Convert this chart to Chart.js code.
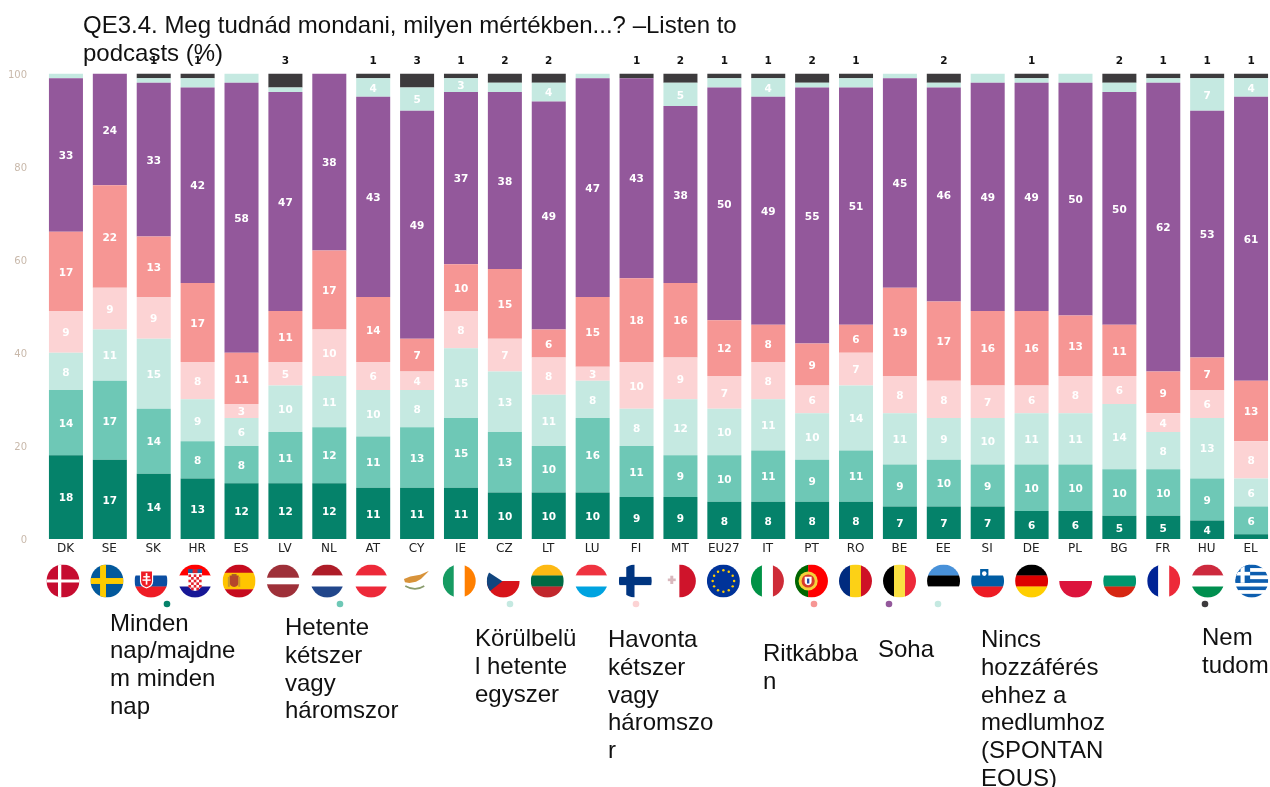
<!DOCTYPE html>
<html><head><meta charset="utf-8">
<script src="https://cdn.jsdelivr.net/npm/chart.js@4"></script>
<style>
html,body{margin:0;padding:0;background:#fff;overflow:hidden;width:1270px;height:787px}
#wrap{position:relative;width:1270px;height:787px;overflow:hidden}
canvas{position:absolute;left:0;top:0;filter:blur(.35px)}
.t{position:absolute;font-family:"Liberation Sans",Arial,sans-serif;font-size:24px;line-height:27.8px;color:#111;white-space:pre}
</style></head><body>
<div id="wrap"><canvas id="c" width="1290" height="787" style="width:1290px;height:787px"></canvas></div>
<script>
const titleLines = ["QE3.4. Meg tudnád mondani, milyen mértékben...? –Listen to","podcasts (%)"];
const categories = ["DK","SE","SK","HR","ES","LV","NL","AT","CY","IE","CZ","LT","LU","FI","MT","EU27","IT","PT","RO","BE","EE","SI","DE","PL","BG","FR","HU","EL"];
const daily    = [18,17,14,13,12,12,12,11,11,11,10,10,10,9,9,8,8,8,8,7,7,7,6,6,5,5,4,1];
const twoThreeWeek = [14,17,14,8,8,11,12,11,13,15,13,10,16,11,9,10,11,9,11,9,10,9,10,10,10,10,9,6];
const weekly   = [8,11,15,9,6,10,11,10,8,15,13,11,8,8,12,10,11,10,14,11,9,10,11,11,14,8,13,6];
const twoThreeMonth = [9,9,9,8,3,5,10,6,4,8,7,8,3,10,9,7,8,6,7,8,8,7,6,8,6,4,6,8];
const rarely   = [17,22,13,17,11,11,17,14,7,10,15,6,15,18,16,12,8,9,6,19,17,16,16,13,11,9,7,13];
const never    = [33,24,33,42,58,47,38,43,49,37,38,49,47,43,38,50,49,55,51,45,46,49,49,50,50,62,53,61];
const noAccess = [1,0,1,2,2,1,0,4,5,3,2,4,1,0,5,2,4,1,2,1,1,2,1,2,2,1,7,4];
const dontKnow = [0,0,1,1,0,3,0,1,3,1,2,2,0,1,2,1,1,2,1,0,2,0,1,0,2,1,1,1];
const seriesValues = [daily,twoThreeWeek,weekly,twoThreeMonth,rarely,never,noAccess,dontKnow];
const seriesNames = ["Minden nap/majdnem minden nap","Hetente kétszer vagy háromszor","Körülbelül hetente egyszer","Havonta kétszer vagy háromszor","Ritkábban","Soha","Nincs hozzáférés ehhez a medlumhoz (SPONTANEOUS)","Nem tudom"];
const seriesColors = ["#05826a","#6ec8b6","#c5e9e1","#fcd3d4","#f69694","#93589b","#c5e9e1","#3d3b3d"];
const legendLines = [
 ["Minden","nap/majdne","m minden","nap"],
 ["Hetente","kétszer","vagy","háromszor"],
 ["Körülbelü","l hetente","egyszer"],
 ["Havonta","kétszer","vagy","háromszo","r"],
 ["Ritkábba","n"],
 ["Soha"],
 ["Nincs","hozzáférés","ehhez a","medlumhoz","(SPONTAN","EOUS)"],
 ["Nem","tudom"]];
const legendTextX = [110,285,475,608,763,878,981,1202];
const legendTextY = [608.5,613,624,625,639,635,625,623];
const legendDotX = [167,340,510,636,814,889,938,1205];

const wrap = document.getElementById('wrap');
function addText(lines,x,y){const d=document.createElement('div');d.className='t';d.style.left=x+'px';d.style.top=y+'px';d.textContent=lines.join('\n');wrap.appendChild(d);}
addText(titleLines,83,11);
legendLines.forEach((l,i)=>addText(l,legendTextX[i],legendTextY[i]));

function H(c,cols,r,ws){let y=-r;const tot=ws?ws.reduce((a,b)=>a+b):cols.length;cols.forEach((k,i)=>{const h=2*r*(ws?ws[i]:1)/tot;c.fillStyle=k;c.fillRect(-r,y,2*r,h+.3);y+=h;});}
function V(c,cols,r,ws){let x=-r;const tot=ws?ws.reduce((a,b)=>a+b):cols.length;cols.forEach((k,i)=>{const w=2*r*(ws?ws[i]:1)/tot;c.fillStyle=k;c.fillRect(x,-r,w+.3,2*r);x+=w;});}
function rect(c,k,x,y,w,h){c.fillStyle=k;c.fillRect(x,y,w,h);}
function dot(c,k,x,y,r){c.fillStyle=k;c.beginPath();c.arc(x,y,r,0,7);c.fill();}
function shield(c,k,x,y,w,h){c.fillStyle=k;c.beginPath();c.moveTo(x-w/2,y-h/2);c.lineTo(x+w/2,y-h/2);c.lineTo(x+w/2,y+h*.1);c.quadraticCurveTo(x+w/2,y+h*.4,x,y+h/2);c.quadraticCurveTo(x-w/2,y+h*.4,x-w/2,y+h*.1);c.closePath();c.fill();}
const W='#ffffff';
const flags = {
 DK(c,r){rect(c,'#c60c30',-r,-r,2*r,2*r);rect(c,W,-r*.3,-r,r*.2,2*r);rect(c,W,-r*1,-r*.09,2*r,r*.18);},
 SE(c,r){rect(c,'#03599c',-r,-r,2*r,2*r);rect(c,'#fecb00',-r*.42,-r,r*.36,2*r);rect(c,'#fecb00',-r,-r*.18,2*r,r*.36);},
 SK(c,r){H(c,[W,'#0b4ea2','#ee1c25'],r);shield(c,W,-r*.27,-r*.1,r*.8,r*1.1);shield(c,'#ee1c25',-r*.27,-r*.1,r*.66,r*.95);rect(c,W,-r*.32,-r*.48,r*.1,r*.7);rect(c,W,-r*.47,-r*.3,r*.4,r*.09);rect(c,W,-r*.52,-r*.1,r*.5,r*.09);},
 HR(c,r){H(c,['#ff0000',W,'#171796'],r);shield(c,W,0,r*.05,r*.85,r*1.1);for(let i=0;i<5;i++)for(let j=0;j<6;j++)if((i+j)%2==0)rect(c,'#e5232e',-r*.4+i*r*.16,-r*.4+j*r*.16,r*.16,r*.16);rect(c,'#1a5fa8',-r*.42,-r*.72,r*.84,r*.24);rect(c,'#d8232a',-r*.15,-r*.72,r*.3,r*.24);},
 ES(c,r){H(c,['#c60b1e','#ffc400','#c60b1e'],r,[1,2,1]);shield(c,'#b5452c',-r*.3,r*.02,r*.55,r*.7);rect(c,'#c9982b',-r*.68,-r*.25,r*.12,r*.6);rect(c,'#c9982b',-r*.05,-r*.25,r*.12,r*.6);rect(c,'#a8572a',-r*.45,-r*.42,r*.3,r*.14);},
 LV(c,r){H(c,['#9e3039',W,'#9e3039'],r,[2,1,2]);},
 NL(c,r){H(c,['#ae1c28',W,'#21468b'],r);},
 AT(c,r){H(c,['#ed2939',W,'#ed2939'],r);},
 CY(c,r){rect(c,W,-r,-r,2*r,2*r);c.fillStyle='#d8933a';c.beginPath();c.moveTo(-r*.68,-r*.12);c.lineTo(-r*.3,-r*.28);c.lineTo(r*.3,-r*.38);c.lineTo(r*.85,-r*.62);c.lineTo(r*.35,-r*.12);c.lineTo(r*.05,r*.05);c.lineTo(-r*.35,r*.12);c.lineTo(-r*.62,r*.08);c.closePath();c.fill();c.strokeStyle='#8a9c6d';c.lineWidth=r*.1;c.beginPath();c.moveTo(-r*.6,r*.3);c.quadraticCurveTo(0,r*.65,r*.55,r*.3);c.stroke();},
 IE(c,r){V(c,['#169b62',W,'#ff7f00'],r);},
 CZ(c,r){H(c,[W,'#d7141a'],r);c.fillStyle='#11457e';c.beginPath();c.moveTo(-r,-r*.6);c.lineTo(-r*.05,r*.02);c.lineTo(-r,r*.75);c.closePath();c.fill();},
 LT(c,r){H(c,['#fdb913','#006a44','#c1272d'],r);},
 LU(c,r){H(c,['#ef3340',W,'#00a3e0'],r);},
 FI(c,r){rect(c,W,-r,-r,2*r,2*r);rect(c,'#003580',-r*.55,-r,r*.5,2*r);rect(c,'#003580',-r,-r*.25,2*r,r*.5);},
 MT(c,r){V(c,[W,'#cf142b'],r);rect(c,'#d9b8bd',-r*.55,-r*.32,r*.18,r*.5);rect(c,'#d9b8bd',-r*.7,-r*.15,r*.48,r*.16);},
 EU27(c,r){rect(c,'#003399',-r,-r,2*r,2*r);for(let i=0;i<12;i++){const a=i*Math.PI/6;dot(c,'#ffcc00',Math.cos(a)*r*.65,Math.sin(a)*r*.65,r*.075);}},
 IT(c,r){V(c,['#009246',W,'#ce2b37'],r);},
 PT(c,r){V(c,['#006600','#ff0000'],r,[2,3]);dot(c,'#f5d23a',-r*.2,0,r*.58);dot(c,'#d83a2a',-r*.2,0,r*.4);shield(c,W,-r*.2,0,r*.42,r*.52);rect(c,'#2a4fa5',-r*.27,-r*.15,r*.14,r*.3);},
 RO(c,r){V(c,['#002b7f','#fcd116','#ce1126'],r);},
 BE(c,r){V(c,['#000000','#fae042','#ed2939'],r);},
 EE(c,r){H(c,['#4891d9','#000000',W],r);},
 SI(c,r){H(c,[W,'#005da4','#ed1c24'],r);shield(c,'#005da4',-r*.2,-r*.42,r*.5,r*.6);dot(c,W,-r*.2,-r*.45,r*.14);},
 DE(c,r){H(c,['#000000','#dd0000','#ffce00'],r);},
 PL(c,r){H(c,[W,'#dc143c'],r);},
 BG(c,r){H(c,[W,'#00966e','#d62612'],r);},
 FR(c,r){V(c,['#002395',W,'#ed2939'],r);},
 HU(c,r){H(c,['#cd2a3e',W,'#008f4f'],r);},
 EL(c,r){const h=2*r/9;for(let i=0;i<9;i++)rect(c,i%2?W:'#0d5eaf',-r,-r+i*h,2*r,h+.2);rect(c,'#0d5eaf',-r,-r,r*.9,5*h);rect(c,W,-r*.68,-r,r*.25,5*h);rect(c,W,-r,-r+2*h,r*.9,h);}
};
const flagPlugin = {id:'flags',afterDraw(chart){
 const c=chart.ctx,x=chart.scales.x,R=16.5,cy=581;
 categories.forEach((k,i)=>{const px=x.getPixelForValue(i)-3+3.7*i/27;
  c.save();c.translate(px,cy);c.beginPath();c.arc(0,0,R,0,Math.PI*2);c.clip();flags[k](c,R);c.restore();});
 seriesColors.forEach((k,i)=>{c.fillStyle=k;c.beginPath();c.arc(legendDotX[i],604,3.3,0,7);c.fill();});
}};
const labelPlugin = {id:'vals',afterDatasetsDraw(chart){
 const c=chart.ctx;c.save();c.textAlign='center';c.textBaseline='middle';
 c.font='bold 10.5px "DejaVu Sans"';
 chart.data.datasets.forEach((d,i)=>{chart.getDatasetMeta(i).data.forEach((b,j)=>{const v=d.data[j];
   if(i===seriesValues.length-1){if(v>0){c.fillStyle='#111';c.fillText(String(v),b.x,61);}}
   else if(v>=3){c.fillStyle='#fff';c.fillText(String(v),b.x,(b.y+b.base)/2+1.5);}
 });});c.restore();}};
new Chart(document.getElementById('c'),{
 type:'bar',
 data:{labels:categories,datasets:seriesValues.map((v,i)=>({label:seriesNames[i],data:v,backgroundColor:seriesColors[i],borderWidth:0,barPercentage:.775,categoryPercentage:1}))},
 options:{responsive:false,animation:false,
  layout:{padding:{left:0,top:73.5,right:17,bottom:0}},
  plugins:{legend:{display:false},title:{display:false},tooltip:{enabled:false}},
  scales:{
   x:{stacked:true,grid:{display:false,drawTicks:false},border:{display:false},
      ticks:{autoSkip:false,maxRotation:0,minRotation:0,padding:2.5,labelOffset:-.5,color:'#222',font:{family:'"DejaVu Sans"',size:12}},
      afterFit(s){s.height=248;}},
   y:{stacked:true,min:0,max:100,grid:{display:false,drawTicks:false},border:{display:false},
      ticks:{stepSize:20,padding:17,labelOffset:1.5,color:'#c9b9ab',font:{family:'"DejaVu Sans"',size:10}},
      afterFit(s){s.width=44;}}
  }},
 plugins:[labelPlugin,flagPlugin]
});
</script></body></html>
